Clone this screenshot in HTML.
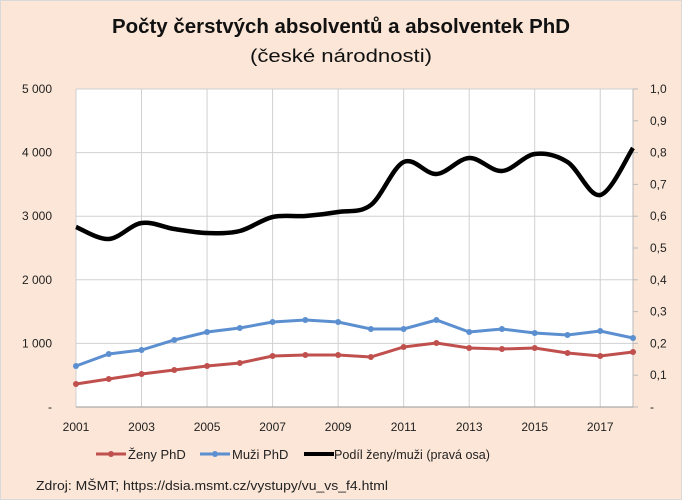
<!DOCTYPE html>
<html><head><meta charset="utf-8"><style>
body{margin:0;background:#fff}
svg{display:block}
text{font-family:"Liberation Sans",sans-serif}
</style></head><body>
<svg id="s" width="682" height="500" xmlns="http://www.w3.org/2000/svg">
<rect x="0" y="0" width="682" height="500" fill="#fbe6d7"/>
<rect x="0.5" y="0.5" width="681" height="499" fill="none" stroke="#d9d9d9"/>
<text x="341" y="33" text-anchor="middle" font-size="20" font-weight="bold" fill="#111" textLength="458" lengthAdjust="spacingAndGlyphs">Počty čerstvých absolventů a absolventek PhD</text>
<text x="341" y="62" text-anchor="middle" font-size="18" fill="#111" textLength="182" lengthAdjust="spacingAndGlyphs">(české národnosti)</text>
<rect x="76" y="89" width="557" height="318" fill="#fff"/>
<g id="grid" stroke="#d0d0d0" stroke-width="1"></g>
<g id="lab" font-size="12" fill="#222"></g>
<path id="black" fill="none" stroke="#000" stroke-width="4.5" stroke-linejoin="round"/>
<polyline id="blue" fill="none" stroke="#5b8fd0" stroke-width="3"/>
<polyline id="red" fill="none" stroke="#c0504d" stroke-width="3"/>
<g id="marks"></g>
<line x1="96" y1="454" x2="126" y2="454" stroke="#c0504d" stroke-width="3"/><circle cx="111" cy="454" r="3" fill="#c0504d"/>
<text x="128" y="459" font-size="13" fill="#222">Ženy PhD</text>
<line x1="200" y1="454" x2="230" y2="454" stroke="#5b8fd0" stroke-width="3"/><circle cx="215" cy="454" r="3" fill="#5b8fd0"/>
<text x="232" y="459" font-size="13" fill="#222">Muži PhD</text>
<line x1="304" y1="454" x2="334" y2="454" stroke="#000" stroke-width="4"/>
<text x="334" y="459" font-size="13" fill="#222" textLength="156" lengthAdjust="spacingAndGlyphs">Podíl ženy/muži (pravá osa)</text>
<text x="36" y="490" font-size="13" fill="#222" textLength="352" lengthAdjust="spacingAndGlyphs">Zdroj: MŠMT; https://dsia.msmt.cz/vystupy/vu_vs_f4.html</text>
</svg>
<script>
var NS="http://www.w3.org/2000/svg";
function el(p,t,a,txt){var e=document.createElementNS(NS,t);for(var k in a)e.setAttribute(k,a[k]);if(txt!=null)e.textContent=txt;document.getElementById(p).appendChild(e);return e;}
var x0=76,x1=633,step=(x1-x0)/17;
function X(i){return x0+i*step;}
for(var k=0;k<=5;k++){var y=407-k*63.6;el("grid","line",{x1:x0,x2:x1,y1:y,y2:y});
 el("lab","text",{x:52,y:y+4,"text-anchor":"end"},k==0?"-":(k+" 000"));}
for(var k=0;k<=10;k++){var y=407-k*31.8;el("grid","line",{x1:x1,x2:x1+5,y1:y,y2:y,stroke:"#bbb"});
 el("lab","text",{x:650,y:y+4},k==0?"-":(k==10?"1,0":"0,"+k));}
for(var i=0;i<=16;i+=2){el("grid","line",{x1:X(i),x2:X(i),y1:89,y2:407});}
el("grid","line",{x1:x1,x2:x1,y1:89,y2:407,stroke:"#bbb"});
el("grid","line",{x1:x0,x2:x1,y1:407,y2:407,stroke:"#999"});
for(var i=0;i<=17;i+=2){el("lab","text",{x:X(i),y:431,"text-anchor":"middle"},String(2001+i));}
var blue=[366,354,350,340,332,328,322,320,322,329,329,320,332,329,333,335,331,338];
var red=[384,379,374,370,366,363,356,355,355,357,347,343,348,349,348,353,356,352];
var blk=[227,239,223,229,233,231,217,216,212,205,162,174,158,171,154,162,195,148];
function pts(a){return a.map(function(v,i){return X(i)+","+v;}).join(" ");}
document.getElementById("blue").setAttribute("points",pts(blue));
document.getElementById("red").setAttribute("points",pts(red));
blue.forEach(function(v,i){el("marks","circle",{cx:X(i),cy:v,r:3,fill:"#5b8fd0"});});
red.forEach(function(v,i){el("marks","circle",{cx:X(i),cy:v,r:3,fill:"#c0504d"});});
var P=blk.map(function(v,i){return [X(i),v];}),d="M"+P[0][0]+","+P[0][1];
for(var i=0;i<P.length-1;i++){var p0=P[Math.max(0,i-1)],p1=P[i],p2=P[i+1],p3=P[Math.min(P.length-1,i+2)],t=6;
 d+=" C"+(p1[0]+(p2[0]-p0[0])/t)+","+(p1[1]+(p2[1]-p0[1])/t)+" "+(p2[0]-(p3[0]-p1[0])/t)+","+(p2[1]-(p3[1]-p1[1])/t)+" "+p2[0]+","+p2[1];}
document.getElementById("black").setAttribute("d",d);
</script>
</body></html>
